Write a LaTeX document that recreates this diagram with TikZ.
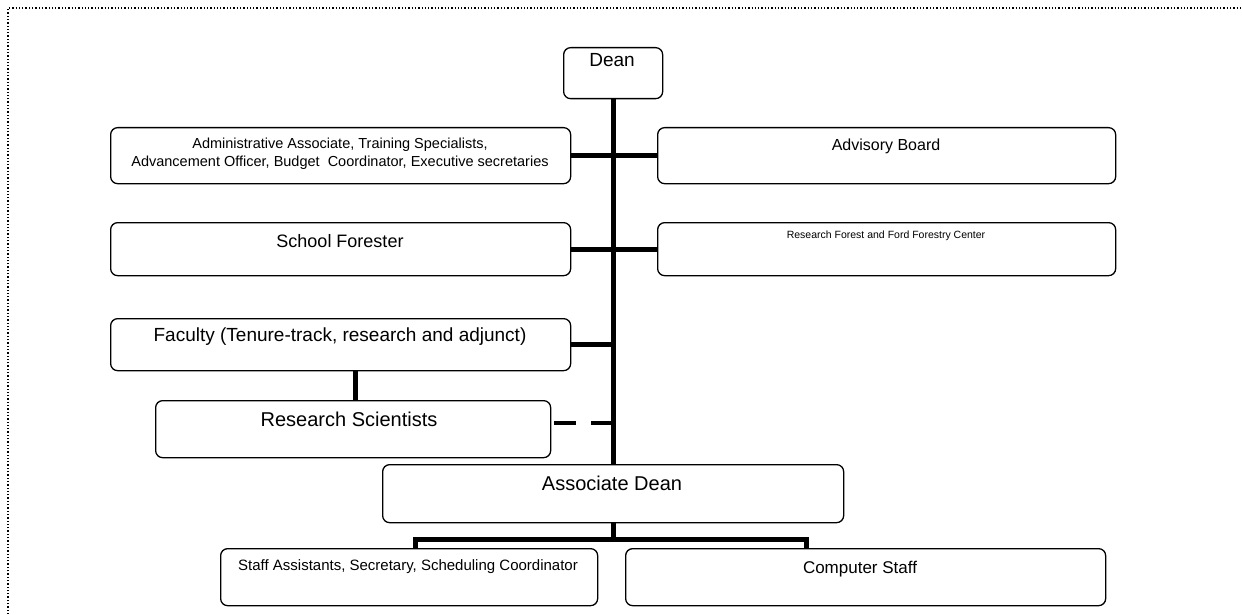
\documentclass[tikz,border=0pt]{standalone}
\usepackage{fontspec}
\setmainfont{Liberation Sans}
\begin{document}
\begin{tikzpicture}[x=1pt,y=-1pt,
  orgbox/.style={draw, line width=1.3pt, rounded corners=7pt, inner sep=0pt, anchor=north west},
  conn/.style={line width=5pt, line join=miter},
  lbl/.style={anchor=base, inner sep=0pt}]
\useasboundingbox (0,0) rectangle (1242,615);
\draw[line width=1.3pt, dash pattern=on 1.3pt off 2pt] (8,700) -- (8,8) -- (1300,8);
% boxes
\node[orgbox, minimum width=99, minimum height=51] (dean) at (563,47) {};
\node[orgbox, minimum width=460, minimum height=56] (admin) at (110,127) {};
\node[orgbox, minimum width=458, minimum height=56] (adv) at (657,127) {};
\node[orgbox, minimum width=460, minimum height=53] (forester) at (110,222) {};
\node[orgbox, minimum width=458, minimum height=53] (resforest) at (657,222) {};
\node[orgbox, minimum width=460, minimum height=52] (fac) at (110,318) {};
\node[orgbox, minimum width=395, minimum height=57] (rs) at (155,400) {};
\node[orgbox, minimum width=461, minimum height=58] (ad) at (382,464) {};
\node[orgbox, minimum width=377, minimum height=57] (staff) at (220,548) {};
\node[orgbox, minimum width=480, minimum height=57] (comp) at (625,548) {};
% texts
\node[lbl, font=\fontsize{19}{19}\selectfont] (tdean) at (612,67) {Dean};
\node[lbl, font=\fontsize{14.5}{17}\selectfont] (tadmina) at (340,149) {Administrative Associate, Training Specialists,};
\node[lbl, font=\fontsize{14.5}{17}\selectfont] (tadminb) at (340,166) {Advancement Officer, Budget\ \ Coordinator, Executive secretaries};
\node[lbl, font=\fontsize{16}{16}\selectfont] (tadv) at (886,150) {Advisory Board};
\node[lbl, font=\fontsize{18}{18}\selectfont] (tforester) at (340,247) {School Forester};
\node[lbl, font=\fontsize{10.5}{10.5}\selectfont] (tresforest) at (886,238) {Research Forest and Ford Forestry Center};
\node[lbl, font=\fontsize{19}{19}\selectfont] (tfac) at (340,341) {Faculty (Tenure-track, research and adjunct)};
\node[lbl, font=\fontsize{20}{20}\selectfont] (trs) at (349,426) {Research Scientists};
\node[lbl, font=\fontsize{20}{20}\selectfont] (tad) at (612,490) {Associate Dean};
\node[lbl, font=\fontsize{15}{15}\selectfont] (tstaff) at (408,570) {Staff Assistants, Secretary, Scheduling Coordinator};
\node[lbl, font=\fontsize{17}{17}\selectfont] (tcomp) at (860,573) {Computer Staff};
% connectors
\draw[conn] (dean.south) -- (dean.south |- ad.north);
\draw[conn] (admin.east) -- (adv.west);
\draw[conn] (forester.east) -- (resforest.west);
\draw[conn] (fac.east) -- (fac.east -| dean.south);
\draw[conn] ([xshift=245pt]fac.south west) -- ([xshift=245pt]fac.south west |- rs.north);
\draw[line width=4pt, dash pattern=on 22pt off 15pt] ([shift={(3pt,6pt)}]rs.east) -- ([shift={(3pt,6pt)}]rs.east -| dean.south);
\coordinate (bl) at (415,539);
\coordinate (br) at (806,539);
\draw[conn] (ad.south) -- (ad.south |- bl);
\draw[conn] (staff.north -| bl) -- (bl) -- (br) -- (comp.north -| br);
\end{tikzpicture}
\end{document}
